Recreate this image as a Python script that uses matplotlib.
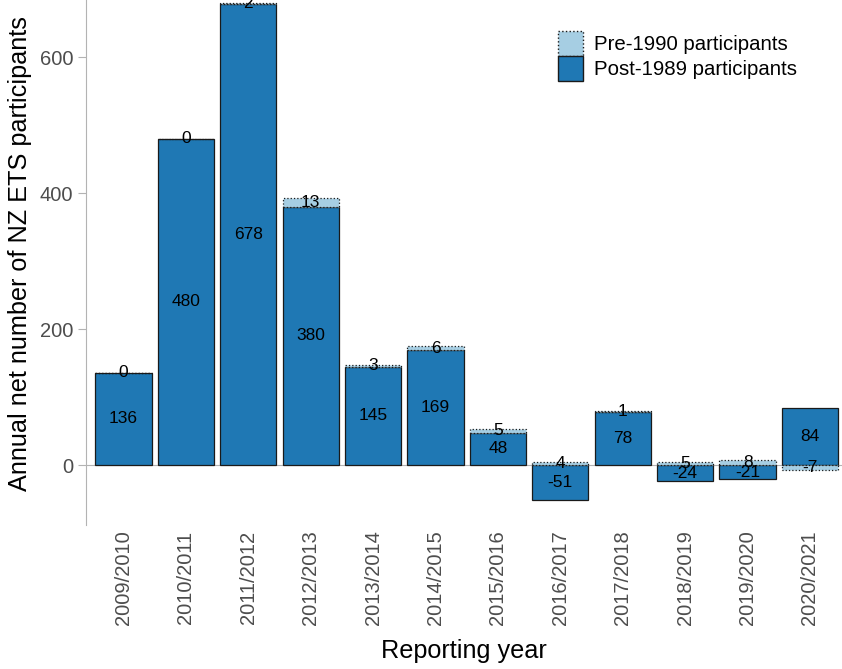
import numpy as np
import matplotlib.pyplot as plt
from matplotlib.patches import Patch

plt.rcParams['font.family'] = ['Liberation Sans', 'DejaVu Sans']

# data
years = ['2009/2010', '2010/2011', '2011/2012', '2012/2013', '2013/2014', '2014/2015',
         '2015/2016', '2016/2017', '2017/2018', '2018/2019', '2019/2020', '2020/2021']
post1989 = [136, 480, 678, 380, 145, 169, 48, -51, 78, -24, -21, 84]
pre1990 = [0, 0, 2, 13, 3, 6, 5, 4, 1, 5, 8, -7]

col_post = '#1f78b4'
col_pre = '#a6cee3'

fig = plt.figure(figsize=(8.42, 6.69), dpi=100)
ax = fig.add_axes([86/842, 144/669, 1-86/842, 1-144/669])

x = np.arange(len(years))
w = 0.9
pos_base = np.zeros(len(years))
neg_base = np.zeros(len(years))

# stack like ggplot: positives and negatives separately, post-1989 first
for vals, col, ls in [(post1989, col_post, '-'), (pre1990, col_pre, ':')]:
    vals = np.array(vals, dtype=float)
    bottoms = np.where(vals >= 0, pos_base, neg_base)
    ax.bar(x, vals, w, bottom=bottoms, color=col, edgecolor='#1a1a1a',
           linewidth=0.9, linestyle=ls, zorder=2 if ls == '-' else 3)
    for i in range(len(vals)):
        ax.text(x[i], bottoms[i] + vals[i]/2, '%d' % vals[i], ha='center',
                va='center', fontsize=12.5, color='black', zorder=4)
    pos_base = pos_base + np.where(vals >= 0, vals, 0)
    neg_base = neg_base + np.where(vals < 0, vals, 0)

ax.set_xlim(-0.6, 11 + 32/62.4)
ax.set_ylim(-88, 684)
ax.set_yticks([0, 200, 400, 600])
ax.set_xticks(x)
ax.set_xticklabels(years, rotation=90)
ax.tick_params(axis='y', colors='#4d4d4d', labelsize=14.5, length=6, color='#b3b3b3', pad=3)
ax.tick_params(axis='x', colors='#4d4d4d', labelsize=14.5, length=0, pad=4)
for s in ['top', 'right', 'bottom']:
    ax.spines[s].set_visible(False)
ax.spines['left'].set_color('#b3b3b3')
ax.axhline(0, color='#b3b3b3', lw=0.8, zorder=1)

ax.set_xlabel('Reporting year', fontsize=18.2, labelpad=10)
ax.set_ylabel('Annual net number of NZ ETS participants', fontsize=18.2)
ax.yaxis.set_label_coords(-0.071, 0.517)

handles = [Patch(facecolor=col_pre, edgecolor='#1a1a1a', linestyle=':', label='Pre-1990 participants'),
           Patch(facecolor=col_post, edgecolor='#1a1a1a', label='Post-1989 participants')]
ax.legend(handles=handles, loc='upper left', bbox_to_anchor=(558/842, 1-31/669),
          bbox_transform=fig.transFigure, frameon=False, borderpad=0, borderaxespad=0,
          fontsize=14.7, handlelength=1.2, handleheight=1.5, handletextpad=0.55, labelspacing=0.0)

fig.savefig('out.png', dpi=100)
